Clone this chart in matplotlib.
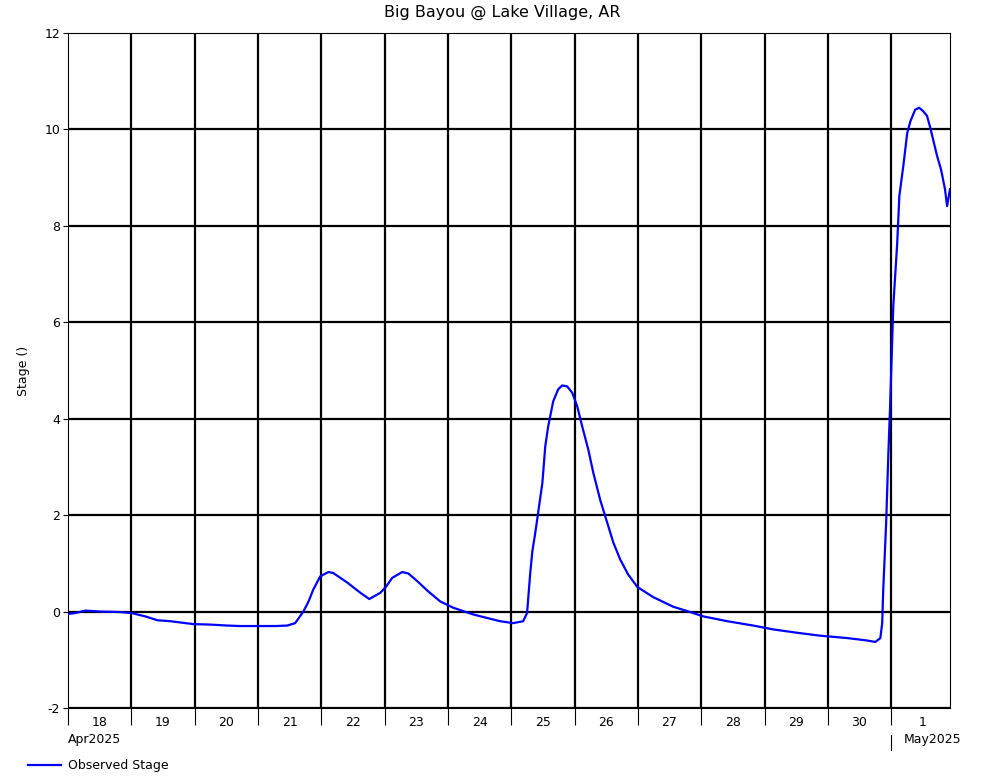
import numpy as np
import pandas as pd
import matplotlib
matplotlib.use("Agg")
import matplotlib.pyplot as plt
import matplotlib.dates as mdates

plt.rcParams["axes.unicode_minus"] = False

# hours after 2025-04-18 00:00 and observed stage
hours = [0, 2.8, 6.6, 12.3, 19.8, 24, 29.3, 33.9, 38.8, 47.5, 53.9, 60.4, 65.3,
         71.7, 78.6, 83.1, 86.1, 89.2, 91.1, 93.0, 95.6, 98.7, 100.5, 105.9,
         110.8, 114.2, 118.4, 120.6, 122.9, 126.7, 129.0, 132.4, 136.5, 141.1,
         146.0, 153.6, 160.1, 163.8, 168.7, 172.5, 174.0, 175.2, 176.0, 177.1,
         178.2, 179.8, 180.9, 182.0, 183.9, 185.8, 187.3, 189.2, 191.1, 193.0,
         194.9, 197.2, 199.1, 201.7, 204.4, 206.7, 209.3, 212.3, 215.8, 221.8,
         229.4, 234.7, 240.8, 249.9, 259.7, 267.3, 276.4, 285.1, 295.4, 302.9,
         306.0, 307.9, 308.6, 309.0, 310.1, 310.9, 311.6, 312.4, 312.8, 314.3,
         315.1, 316.6, 318.1, 319.3, 321.1, 322.6, 324.1, 325.6, 326.8, 327.9,
         329.4, 330.9, 332.4, 333.2, 334.3]
stage = [-0.05, -0.03, 0.02, 0.0, -0.01, -0.03, -0.10, -0.18, -0.20, -0.26,
         -0.27, -0.29, -0.30, -0.30, -0.30, -0.29, -0.24, 0.0, 0.2, 0.46, 0.73,
         0.82, 0.80, 0.60, 0.39, 0.26, 0.39, 0.52, 0.70, 0.82, 0.79, 0.63,
         0.42, 0.21, 0.08, -0.06, -0.15, -0.20, -0.24, -0.20, -0.03, 0.80,
         1.25, 1.63, 2.05, 2.67, 3.43, 3.84, 4.36, 4.61, 4.69, 4.67, 4.54,
         4.26, 3.84, 3.36, 2.88, 2.32, 1.84, 1.43, 1.08, 0.77, 0.51, 0.30,
         0.10, 0.01, -0.10, -0.20, -0.29, -0.37, -0.44, -0.50, -0.55, -0.60,
         -0.63, -0.55, -0.24, 0.46, 1.84, 3.22, 4.26, 5.64, 6.33, 7.65, 8.62,
         9.24, 9.93, 10.17, 10.41, 10.45, 10.38, 10.28, 10.04, 9.79, 9.45,
         9.17, 8.76, 8.41, 8.76]
yticks = [-2, 0, 2, 4, 6, 8, 10, 12]

start = pd.Timestamp("2025-04-18")
t = start + pd.to_timedelta(hours, unit="h")
days = pd.date_range("2025-04-18", "2025-05-02", freq="D")

fig = plt.figure(figsize=(10.01, 7.8), dpi=100)
ax = fig.add_axes([68/1001, 72/780, 882/1001, 675/780])

x0 = mdates.date2num(t[0])
x1 = mdates.date2num(t[-1])
ax.set_xlim(x0, x1)
ax.set_ylim(-2, 12)

# grid
for d in days[1:-1]:
    ax.axvline(mdates.date2num(d), color="black", lw=1.6, zorder=1)
for v in yticks[:-1]:
    ax.axhline(v, color="black", lw=1.6, zorder=1)
for s in ax.spines.values():
    s.set_linewidth(0.8)
    s.set_color("black")

ax.plot(t, stage, color="#0000ff", lw=1.6, zorder=3)

ax.set_yticks(yticks)
ax.tick_params(axis="y", length=3.6, width=0.8, labelsize=9, pad=2)

ax.set_xticks([mdates.date2num(d) for d in days[:-1]])
ax.set_xticklabels([])
ax.tick_params(axis="x", length=12, width=0.8)
ax.set_xticks([mdates.date2num(d) + 0.5 for d in days[:-1]], minor=True)
ax.set_xticklabels([str(d.day) for d in days[:-1]], minor=True)
ax.tick_params(axis="x", which="minor", length=0, labelsize=9, pad=6)

ax.text(0, -0.047, "Apr2025", transform=ax.transAxes, ha="left", va="center",
        fontsize=9)
xm = (mdates.date2num(pd.Timestamp("2025-05-01")) - x0) / (x1 - x0)
ax.text(xm + 0.014, -0.047, "May2025", transform=ax.transAxes, ha="left",
        va="center", fontsize=9)
ax.plot([xm, xm], [-0.04, -0.062], transform=ax.transAxes, color="black",
        lw=0.8, clip_on=False)

fig.text(502/1001, 1 - 12/780, "Big Bayou @ Lake Village, AR", ha="center",
         va="center", fontsize=11.5)
ax.set_ylabel("Stage ()", fontsize=9)
ax.yaxis.set_label_coords(-38/882, 0.5)

fig.lines.append(plt.Line2D([28/1001, 61/1001], [15/780, 15/780],
                            color="#0000ff", lw=1.6, transform=fig.transFigure))
fig.text(68/1001, 15/780, "Observed Stage", ha="left", va="center", fontsize=9)

fig.savefig("out.png", dpi=100)
